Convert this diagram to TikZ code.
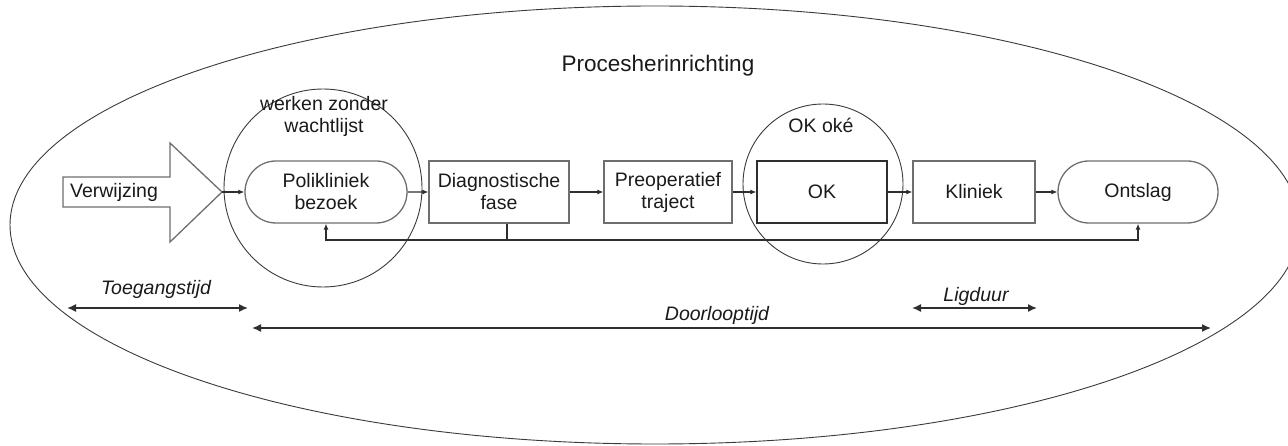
\documentclass[tikz,border=0pt]{standalone}
\usepackage{fontspec}
\setmainfont{Liberation Sans}
\usetikzlibrary{arrows.meta,shapes.misc,shapes.geometric}

\definecolor{ink}{HTML}{1A1A1A}
\definecolor{rim}{HTML}{6E6E6E}
\definecolor{wire}{HTML}{2E2E2E}
\definecolor{loop}{HTML}{3A3A3A}

\newcommand{\bodyfont}{\fontsize{19.5}{22}\selectfont}
\newcommand{\titlefont}{\fontsize{22.5}{26}\selectfont}

\tikzset{
  stagebox/.style={draw=rim, line width=1.3pt, minimum height=62pt, inner sep=0pt,
                   align=center, font=\bodyfont, text=ink},
  stagepill/.style={stagebox, rounded rectangle},
  ring/.style={circle, draw=loop, line width=0.9pt, inner sep=0pt},
  flow/.style={-{Latex[length=6pt,width=5pt]}, line width=1.1pt, draw=wire},
  span/.style={{Latex[length=9pt,width=8pt]}-{Latex[length=9pt,width=8pt]}, line width=1.5pt, draw=wire},
  caption/.style={font=\bodyfont, text=ink, align=center, inner sep=0pt},
  duration/.style={font=\bodyfont\itshape, text=ink, inner sep=0pt, anchor=base}
}

\begin{document}
\begin{tikzpicture}[x=1pt,y=-1pt]
\useasboundingbox (0,0) rectangle (1288,446);

% outer ellipse and title
\node[ellipse, draw=loop, line width=0.9pt, minimum width=1290pt, minimum height=438pt, inner sep=0pt] (proc) at (655,225) {};
\node[caption, font=\titlefont, anchor=base] (title) at (658,72) {Procesherinrichting};

% highlighted regions
\node[ring, minimum size=198pt] (wzw) at (323,188) {};
\node[ring, minimum size=160pt] (okring) at (823,184) {};
\node[caption, anchor=base] (wzwtxt) at (324,133) {werken zonder\\wachtlijst};
\node[caption, anchor=base] (oktxt) at (821,133) {OK oké};

% referral arrow
\draw[draw=rim, line width=1.3pt, fill=white, line join=miter]
  (63,177) -- (170,177) -- (170,143) -- (222,192) -- (170,242) -- (170,207) -- (63,207) -- cycle;
\node[caption] (verw) at (114,192) {Verwijzing};
\coordinate (verwtip) at (222,192);

% process stages
\node[stagepill, minimum width=162pt] (poli) at (326,192) {Polikliniek\\bezoek};
\node[stagebox, minimum width=140pt] (diag) at (499,192) {Diagnostische\\fase};
\node[stagebox, minimum width=128pt] (preop) at (668,192) {Preoperatief\\traject};
\node[stagebox, draw=wire, minimum width=130pt] (ok) at (822,192) {OK};
\node[stagebox, minimum width=122pt] (kliniek) at (974,192) {Kliniek};
\node[stagepill, minimum width=160pt] (ontslag) at (1138,192) {Ontslag};

% main flow
\draw[flow] (verwtip) -- (poli);
\draw[flow] (poli) -- (diag);
\draw[flow] (diag) -- (preop);
\draw[flow] (preop) -- (ok);
\draw[flow] (ok) -- (kliniek);
\draw[flow] (kliniek) -- (ontslag);

% feedback from the diagnostic phase
\coordinate (stem) at (507,240);
\draw[line width=1.1pt, draw=wire] (diag.south -| stem) -- (stem);
\draw[flow] (stem) -| (poli.south);
\draw[flow] (stem) -| (ontslag.south);

% durations
\coordinate (toegA) at (67,308);
\coordinate (toegB) at (248,308);
\coordinate (doorA) at (252,328);
\coordinate (doorB) at (1211,328);
\coordinate (ligA) at (912,308);
\coordinate (ligB) at (1037,308);
\draw[span] (toegA) -- (toegB);
\draw[span] (doorA) -- (doorB);
\draw[span] (ligA) -- (ligB);
\node[duration] (toeg) at (156,295) {Toegangstijd};
\node[duration] (door) at (717,320) {Doorlooptijd};
\node[duration] (lig) at (976,302) {Ligduur};
\end{tikzpicture}
\end{document}
